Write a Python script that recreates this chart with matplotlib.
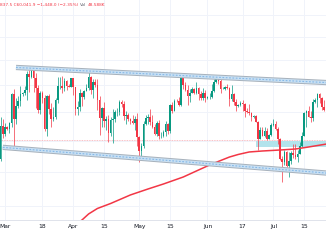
import numpy as np
import pandas as pd
import matplotlib
matplotlib.use("Agg")
import matplotlib.pyplot as plt
import matplotlib.dates as mdates

# daily candles, Feb 28 -> Jul 24 (prices in thousands)
start_date = "2024-02-28"
opens = [57.0, 62.5, 61.2, 62.4, 62.0, 63.1, 68.3, 63.8, 66.1, 66.9, 68.3, 68.5, 69.0, 72.1, 71.5, 73.1,
         71.4, 69.4, 65.3, 68.4, 67.6, 62.0, 67.9, 65.5, 63.8, 64.0, 67.2, 69.9, 69.9, 69.5, 70.7, 69.9,
         69.6, 71.3, 69.6, 65.5, 65.9, 68.5, 67.8, 68.9, 69.4, 71.6, 69.1, 70.6, 70.0, 67.2, 63.9, 65.7,
         63.4, 63.8, 61.3, 63.5, 63.8, 64.9, 64.9, 66.8, 66.4, 64.3, 64.5, 63.8, 63.4, 63.1, 63.8, 60.6,
         58.3, 59.1, 62.9, 63.9, 64.0, 63.2, 62.3, 61.2, 63.1, 60.8, 60.8, 61.5, 62.9, 61.6, 66.3, 65.2,
         67.0, 66.9, 66.3, 71.4, 70.1, 69.1, 67.9, 68.5, 69.3, 68.5, 69.4, 68.3, 67.6, 68.4, 67.5, 67.7,
         67.8, 68.8, 70.6, 71.1, 70.8, 69.3, 69.3, 69.6, 69.5, 67.3, 68.2, 66.7, 66.0, 66.2, 66.6, 66.5,
         65.2, 64.9, 64.8, 64.1, 64.3, 63.2, 60.3, 61.8, 60.8, 61.6, 60.3, 60.9, 62.7, 62.9, 62.0, 60.2,
         57.0, 56.6, 58.2, 55.9, 56.7, 58.0, 57.7, 57.3, 57.9, 59.2, 60.8, 64.8, 65.1, 64.1, 63.9, 66.7,
         67.2, 68.2, 67.6, 65.9]
highs = [64.0, 63.7, 63.1, 62.5, 63.2, 68.5, 69.2, 67.6, 67.9, 69.9, 68.6, 69.9, 72.8, 73.0, 73.6, 73.8,
         72.4, 70.0, 68.8, 68.9, 68.1, 68.1, 68.2, 66.6, 65.9, 67.6, 71.5, 71.5, 71.8, 71.4, 70.9, 70.3,
         71.4, 71.3, 69.6, 66.9, 69.3, 68.7, 69.0, 70.3, 72.7, 71.8, 71.1, 71.2, 71.2, 67.9, 65.8, 66.8,
         64.3, 64.5, 64.0, 65.5, 65.4, 65.7, 67.2, 67.2, 67.0, 65.2, 64.8, 63.9, 64.4, 64.2, 64.7, 60.8,
         59.6, 63.3, 64.5, 64.6, 65.5, 64.4, 62.9, 63.4, 63.5, 61.4, 61.8, 63.4, 63.1, 66.4, 66.7, 67.4,
         67.4, 67.7, 71.5, 71.9, 70.6, 70.0, 69.2, 69.6, 69.5, 70.6, 69.6, 68.9, 69.5, 69.0, 67.9, 68.4,
         70.3, 71.1, 71.8, 71.6, 72.0, 69.6, 69.9, 70.2, 69.6, 70.0, 68.4, 67.3, 66.4, 66.9, 67.2, 66.6,
         65.7, 66.5, 65.0, 64.5, 64.5, 63.4, 62.3, 62.4, 62.3, 62.2, 61.2, 63.0, 63.8, 63.3, 62.3, 60.5,
         57.5, 58.5, 58.3, 58.2, 58.3, 59.4, 59.5, 58.5, 59.8, 61.4, 64.9, 65.4, 66.1, 65.1, 67.4, 67.6,
         68.4, 68.5, 67.8, 67.1]
lows = [56.7, 60.4, 60.8, 61.8, 61.3, 62.4, 59.2, 62.8, 65.6, 66.1, 68.0, 68.1, 67.2, 68.6, 71.3, 68.6,
        65.6, 64.8, 64.6, 66.6, 61.6, 60.8, 64.6, 62.3, 63.3, 63.8, 66.6, 69.3, 68.4, 68.9, 69.1, 69.6,
        69.6, 68.1, 64.5, 64.5, 65.1, 66.0, 67.4, 68.8, 69.1, 68.2, 67.5, 69.6, 65.3, 61.0, 62.3, 62.3,
        61.8, 59.8, 60.8, 59.6, 63.2, 64.3, 64.5, 65.8, 63.6, 62.8, 63.4, 62.8, 62.9, 61.8, 59.2, 56.6,
        56.9, 58.8, 62.6, 62.9, 62.7, 62.1, 60.9, 60.8, 60.2, 60.5, 60.6, 60.8, 61.2, 61.3, 64.7, 65.1,
        66.7, 66.1, 66.1, 69.2, 68.9, 66.3, 66.7, 68.5, 68.3, 68.3, 67.2, 67.1, 67.1, 66.7, 67.4, 67.3,
        67.6, 68.6, 70.4, 70.2, 68.5, 69.2, 69.1, 69.3, 66.1, 66.9, 66.3, 65.1, 65.9, 66.0, 65.1, 64.1,
        64.7, 64.5, 63.4, 63.9, 63.2, 58.4, 60.3, 60.7, 60.6, 60.1, 60.3, 60.7, 62.5, 61.8, 59.5, 56.8,
        53.5, 56.1, 55.8, 54.3, 56.3, 57.2, 57.0, 56.6, 57.8, 59.0, 60.7, 62.4, 64.0, 63.2, 63.3, 66.6,
        65.8, 66.6, 65.4, 65.1]
closes = opens[1:] + [65.4]

# 200-day moving average
ma_dates = ["2024-04-01", "2024-04-05", "2024-04-08", "2024-04-12", "2024-04-18", "2024-04-27",
            "2024-05-05", "2024-05-12", "2024-05-21", "2024-05-28", "2024-06-02", "2024-06-06",
            "2024-06-11", "2024-06-15", "2024-06-20", "2024-06-26", "2024-07-04", "2024-07-11",
            "2024-07-17", "2024-07-26"]
ma_values = [47.3, 48.16, 48.97, 49.72, 50.41, 51.62, 52.48, 53.21, 54.25, 55.32, 56.09, 56.65,
             57.34, 57.75, 58.15, 58.31, 58.47, 58.63, 58.96, 59.5]

# channel lines and zones
upper_channel = (["2024-03-06", "2024-07-27"], [73.5, 70.45])
lower_channel = (["2024-02-29", "2024-07-27"], [58.9, 54.8])
zone_dates = ["2024-06-23", "2024-07-30"]
zone_prices = [59.0, 60.0]
last_price = 60.0419

tick_dates = ["2024-03-01", "2024-03-18", "2024-04-01", "2024-04-15", "2024-05-01",
              "2024-05-15", "2024-06-01", "2024-06-17", "2024-07-01", "2024-07-15"]
tick_labels = ["Mar", "18", "Apr", "15", "May", "15", "Jun", "17", "Jul", "15"]
grid_prices = [50, 55, 60, 65, 70, 75, 80, 85]

up_col = "#089981"
down_col = "#f23645"

dates = mdates.date2num(pd.date_range(start_date, periods=len(opens)))
o = np.array(opens) * 1000
h = np.array(highs) * 1000
l = np.array(lows) * 1000
c = np.array(closes) * 1000
cols = np.where(c >= o, up_col, down_col)

fig = plt.figure(figsize=(3.26, 2.45), dpi=100)
ax = fig.add_axes([0, 25 / 245, 1, 220 / 245])
ax.set_yscale("log")

# pixel calibration: 73.8k at y=66, 0.002772 ln-units per pixel
k = 0.002772
ax.set_ylim(73800 * np.exp(-154 * k), 73800 * np.exp(66 * k))
mar1 = mdates.date2num(pd.Timestamp("2024-03-01"))
ax.set_xlim(mar1 - 2.27, mar1 + 145.9)

for p in grid_prices:
    ax.axhline(p * 1000, color="#f0f3fa", lw=0.7, zorder=0)
tick_x = mdates.date2num(pd.to_datetime(tick_dates))
for tx in tick_x:
    ax.axvline(tx, color="#f0f3fa", lw=0.7, zorder=0)

# zone
zx = mdates.date2num(pd.to_datetime(zone_dates))
ax.fill_between(zx, zone_prices[0] * 1000, zone_prices[1] * 1000, color="#b2e3ec", lw=0, zorder=1)

# last price line
ax.axhline(last_price * 1000, color="#f7a9b0", lw=0.6, ls=(0, (1, 1)), zorder=1)

# candles
ax.vlines(dates, l, h, colors=cols, lw=0.5, zorder=3)
ax.bar(dates, np.abs(c - o), bottom=np.minimum(o, c), width=0.7, color=cols, lw=0, zorder=3)

# moving average
ax.plot(mdates.date2num(pd.to_datetime(ma_dates)), np.array(ma_values) * 1000,
        color="#f23645", lw=1.1, zorder=4, solid_capstyle="round", solid_joinstyle="round")

# channel bands
for cd, cp in [upper_channel, lower_channel]:
    cx = mdates.date2num(pd.to_datetime(cd))
    cy = np.array(cp) * 1000
    ax.plot(cx, cy, color="#a7b1bb", lw=3.8, zorder=5, solid_capstyle="butt")
    ax.plot(cx, cy, color="#c9e0f3", lw=2.4, zorder=5, solid_capstyle="butt")
    ax.plot(cx, cy, color="#86b9e8", lw=0.8, ls=(0, (1.6, 1.4)), zorder=5)

ax.set_xticks(tick_x)
ax.set_xticklabels(tick_labels)
ax.set_yticks([])
ax.minorticks_off()
ax.tick_params(axis="x", length=0, pad=2.6, labelsize=4.3, labelcolor="#131722")
for s in ["top", "left", "right"]:
    ax.spines[s].set_visible(False)
ax.spines["bottom"].set_color("#e0e3eb")
ax.spines["bottom"].set_linewidth(0.7)

# header
t1 = fig.text(0.0, 1 - 4.5 / 245, "837.5 C60,041.9 \u22121,448.0 (\u22122.35%)", fontsize=3.1,
              color="#f23645", va="center", ha="left")
t2 = ax.annotate("Vol", xy=(1, 0.5), xycoords=t1, xytext=(1.5, 0), textcoords="offset points",
                 fontsize=3.1, color="#5d606b", va="center", ha="left")
ax.annotate("48.588K", xy=(1, 0.5), xycoords=t2, xytext=(1.2, 0), textcoords="offset points",
            fontsize=3.1, color="#f23645", va="center", ha="left")

fig.savefig("out.png", dpi=100)
